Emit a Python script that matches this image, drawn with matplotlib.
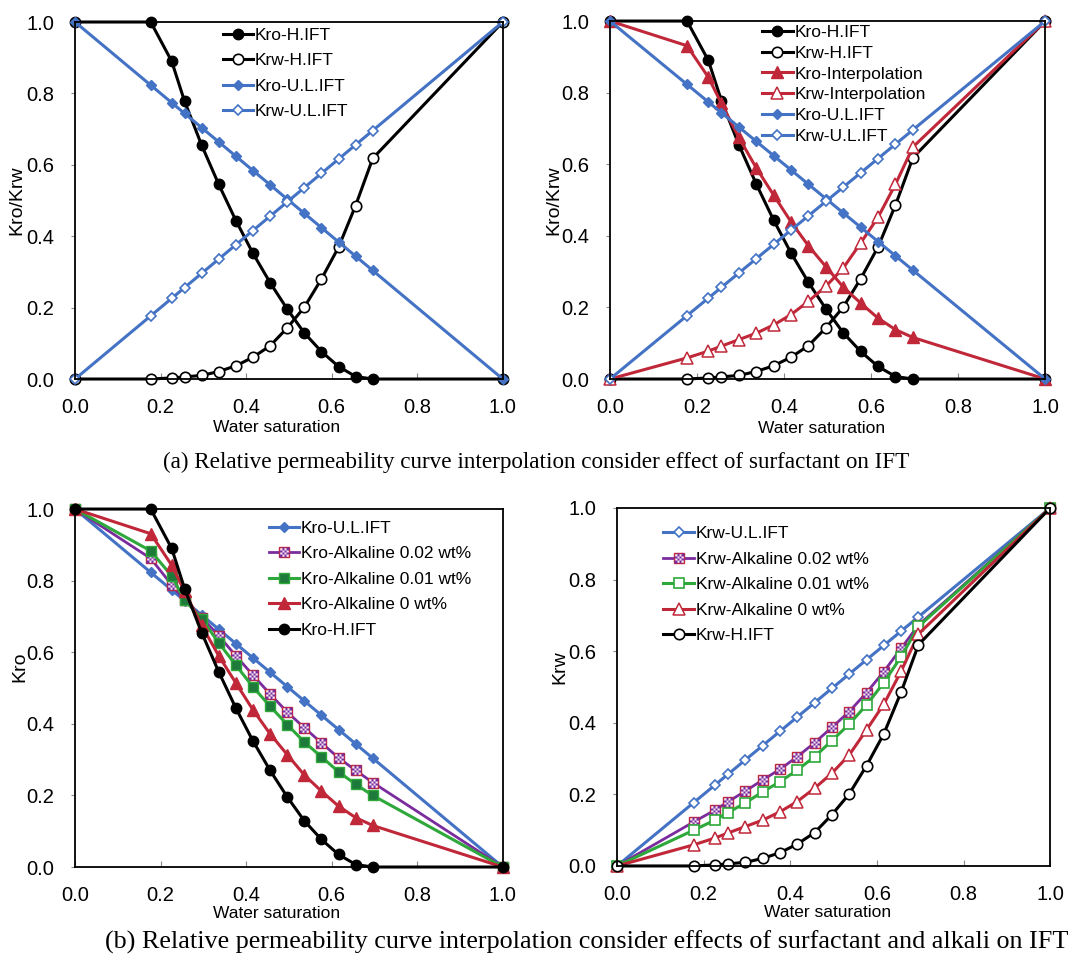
import matplotlib
matplotlib.use("Agg")
import matplotlib.pyplot as plt
from matplotlib.path import Path
from matplotlib.legend_handler import HandlerTuple

plt.rcParams['font.family'] = ['Liberation Sans', 'DejaVu Sans']

# water saturation points (same for every curve)
sw = [0.0, 0.177, 0.226, 0.256, 0.296, 0.336, 0.376, 0.416, 0.456, 0.496,
      0.536, 0.576, 0.616, 0.656, 0.696, 1.0]

# high IFT
kro_h = [1.0, 1.0, 0.89, 0.778, 0.655, 0.545, 0.444, 0.352, 0.270, 0.196,
         0.129, 0.077, 0.035, 0.007, 0.0, 0.0]
krw_h = [0.0, 0.0, 0.003, 0.006, 0.010, 0.021, 0.037, 0.061, 0.093, 0.143,
         0.201, 0.280, 0.369, 0.486, 0.618, 1.0]

# ultra-low IFT
kro_ul = [1.0, 0.823, 0.774, 0.744, 0.704, 0.664, 0.624, 0.584, 0.544, 0.504,
          0.464, 0.424, 0.384, 0.344, 0.304, 0.0]
krw_ul = [0.0, 0.177, 0.226, 0.256, 0.296, 0.336, 0.376, 0.416, 0.456, 0.496,
          0.536, 0.576, 0.616, 0.656, 0.696, 1.0]

# interpolation (= alkaline 0 wt%)
kro_int = [1.0, 0.931, 0.843, 0.770, 0.675, 0.590, 0.514, 0.439, 0.372, 0.314,
           0.257, 0.212, 0.170, 0.138, 0.116, 0.0]
krw_int = [0.0, 0.059, 0.078, 0.092, 0.110, 0.128, 0.151, 0.180, 0.217, 0.259,
           0.310, 0.380, 0.452, 0.544, 0.648, 1.0]

# alkaline 0.02 wt%
kro_a02 = [1.0, 0.862, 0.788, 0.746, 0.697, 0.646, 0.590, 0.536, 0.483, 0.433,
           0.389, 0.347, 0.305, 0.270, 0.236, 0.0]
krw_a02 = [0.0, 0.123, 0.156, 0.179, 0.209, 0.240, 0.270, 0.305, 0.344, 0.387,
           0.431, 0.484, 0.543, 0.608, 0.673, 1.0]

# alkaline 0.01 wt%
kro_a01 = [1.0, 0.883, 0.813, 0.746, 0.694, 0.626, 0.564, 0.503, 0.449, 0.398,
           0.349, 0.308, 0.266, 0.231, 0.200, 0.0]
krw_a01 = [0.0, 0.100, 0.128, 0.149, 0.176, 0.207, 0.235, 0.268, 0.305, 0.350,
           0.396, 0.450, 0.512, 0.585, 0.669, 1.0]

BLUE = '#4472C4'
RED = '#C0283A'
GREEN = '#2EA83A'
DGREEN = '#1E7A3A'
PURPLE = '#7A2C9E'

# checker pattern marker for the 0.02 wt% series
verts, codes = [], []
n = 4
for i in range(n):
    for j in range(n):
        if (i + j) % 2 == 0:
            x0 = -0.5 + i / n
            y0 = -0.5 + j / n
            verts += [(x0, y0), (x0 + 1 / n, y0), (x0 + 1 / n, y0 + 1 / n),
                      (x0, y0 + 1 / n), (x0, y0)]
            codes += [Path.MOVETO, Path.LINETO, Path.LINETO, Path.LINETO, Path.CLOSEPOLY]
checker = Path(verts, codes)

fig = plt.figure(figsize=(10.72, 9.61), dpi=100)
ax1 = fig.add_axes([0.070, 0.6056, 0.399, 0.3715])
ax2 = fig.add_axes([0.569, 0.6056, 0.406, 0.3725])
ax3 = fig.add_axes([0.070, 0.0978, 0.399, 0.3725])
ax4 = fig.add_axes([0.5756, 0.0989, 0.404, 0.3725])

kw = dict(clip_on=False)
LEG = dict(frameon=False, fontsize=12.5, handlelength=1.75, handletextpad=0.1,
           borderpad=0, borderaxespad=0, loc='upper left')


def h_ift(ax):
    a, = ax.plot(sw, kro_h, color='black', lw=2.2, marker='o', ms=7.5, label='Kro-H.IFT', **kw)
    b, = ax.plot(sw, krw_h, color='black', lw=2.2, marker='o', ms=7.5, mfc='white',
                 mec='black', mew=1.2, label='Krw-H.IFT', **kw)
    return a, b


def ul_ift(ax):
    a, = ax.plot(sw, kro_ul, color=BLUE, lw=2.2, marker='D', ms=5.5, label='Kro-U.L.IFT', **kw)
    b, = ax.plot(sw, krw_ul, color=BLUE, lw=2.2, marker='D', ms=5.5, mfc='white',
                 mec=BLUE, mew=1.2, label='Krw-U.L.IFT', **kw)
    return a, b


def a02(ax, y):
    ln, = ax.plot(sw, y, color=PURPLE, lw=2.0, marker='s', ms=7.5, mfc='#F4E8F4',
                  mec=RED, mew=1.0, **kw)
    ck, = ax.plot(sw, y, ls='none', marker=checker, ms=6.8, mfc=PURPLE, mec='none', **kw)
    return (ln, ck)


# (a) left
h_ift(ax1)
ul_ift(ax1)
ax1.legend(bbox_to_anchor=(0.345, 0.983), labelspacing=0.58, **LEG)
ax1.set_ylabel('Kro/Krw')

# (a) right
h_ift(ax2)
ax2.plot(sw, kro_int, color=RED, lw=2.2, marker='^', ms=8, label='Kro-Interpolation', **kw)
ax2.plot(sw, krw_int, color=RED, lw=2.2, marker='^', ms=8, mfc='white', mec=RED, mew=1.1,
         label='Krw-Interpolation', **kw)
ul_ift(ax2)
ax2.legend(bbox_to_anchor=(0.35, 0.99), labelspacing=0.33, **LEG)
ax2.set_ylabel('Kro/Krw')

# (b) left - Kro
l1, = ax3.plot(sw, kro_ul, color=BLUE, lw=2.2, marker='D', ms=5.5, **kw)
h2 = a02(ax3, kro_a02)
l3, = ax3.plot(sw, kro_a01, color=GREEN, lw=2.2, marker='s', ms=7.5, mfc=DGREEN, mec=GREEN, **kw)
l4, = ax3.plot(sw, kro_int, color=RED, lw=2.2, marker='^', ms=8, **kw)
l5, = ax3.plot(sw, kro_h, color='black', lw=2.2, marker='o', ms=7.5, **kw)
ax3.legend([l1, h2, l3, l4, l5],
           ['Kro-U.L.IFT', 'Kro-Alkaline 0.02 wt%', 'Kro-Alkaline 0.01 wt%',
            'Kro-Alkaline 0 wt%', 'Kro-H.IFT'],
           handler_map={tuple: HandlerTuple(ndivide=1, pad=0)},
           bbox_to_anchor=(0.453, 0.968), labelspacing=0.6, **LEG)
ax3.set_ylabel('Kro')

# (b) right - Krw
m1, = ax4.plot(sw, krw_ul, color=BLUE, lw=2.2, marker='D', ms=5.5, mfc='white', mec=BLUE,
               mew=1.2, **kw)
h2 = a02(ax4, krw_a02)
m3, = ax4.plot(sw, krw_a01, color=GREEN, lw=2.2, marker='s', ms=7.5, mfc='white', mec=GREEN,
               mew=1.2, **kw)
m4, = ax4.plot(sw, krw_int, color=RED, lw=2.2, marker='^', ms=8, mfc='white', mec=RED,
               mew=1.1, **kw)
m5, = ax4.plot(sw, krw_h, color='black', lw=2.2, marker='o', ms=7.5, mfc='white', mec='black',
               mew=1.2, **kw)
ax4.legend([m1, h2, m3, m4, m5],
           ['Krw-U.L.IFT', 'Krw-Alkaline 0.02 wt%', 'Krw-Alkaline 0.01 wt%',
            'Krw-Alkaline 0 wt%', 'Krw-H.IFT'],
           handler_map={tuple: HandlerTuple(ndivide=1, pad=0)},
           bbox_to_anchor=(0.107, 0.95), labelspacing=0.6, **LEG)
ax4.set_ylabel('Krw')

label_pos = {ax1: ((0.47, -0.137), (-0.135, 0.5)),
             ax2: ((0.487, -0.137), (-0.128, 0.5)),
             ax3: ((0.47, -0.13), (-0.13, 0.56)),
             ax4: ((0.487, -0.13), (-0.132, 0.556))}

for ax in [ax1, ax2, ax3, ax4]:
    ax.set_xlim(0, 1)
    ax.set_ylim(0, 1)
    ax.set_xticks([0.0, 0.2, 0.4, 0.6, 0.8, 1.0])
    ax.set_yticks([0.0, 0.2, 0.4, 0.6, 0.8, 1.0])
    ax.xaxis.set_major_formatter(matplotlib.ticker.FormatStrFormatter('%.1f'))
    ax.yaxis.set_major_formatter(matplotlib.ticker.FormatStrFormatter('%.1f'))
    ax.tick_params(axis='x', direction='in', length=4, color='#888888', pad=14, labelsize=14.5)
    ax.tick_params(axis='y', direction='out', length=3, color='#888888', pad=12, labelsize=14.5)
    for s in ax.spines.values():
        s.set_linewidth(1.3)
        s.set_color('black')
    ax.set_xlabel('Water saturation', fontsize=12.5)
    xl, yl = label_pos[ax]
    ax.xaxis.set_label_coords(*xl)
    ax.xaxis.label.set_va('center')
    ax.yaxis.set_label_coords(*yl)
    ax.yaxis.label.set_va('center')
    ax.yaxis.label.set_fontsize(14)

fig.text(0.500, 0.519, '(a) Relative permeability curve interpolation consider effect of surfactant on IFT',
         ha='center', va='center', fontsize=16.7, family='Liberation Serif')
fig.text(0.547, 0.019, '(b) Relative permeability curve interpolation consider effects of surfactant and alkali on IFT',
         ha='center', va='center', fontsize=18.8, family='Liberation Serif')

fig.savefig('out.png', dpi=100)
